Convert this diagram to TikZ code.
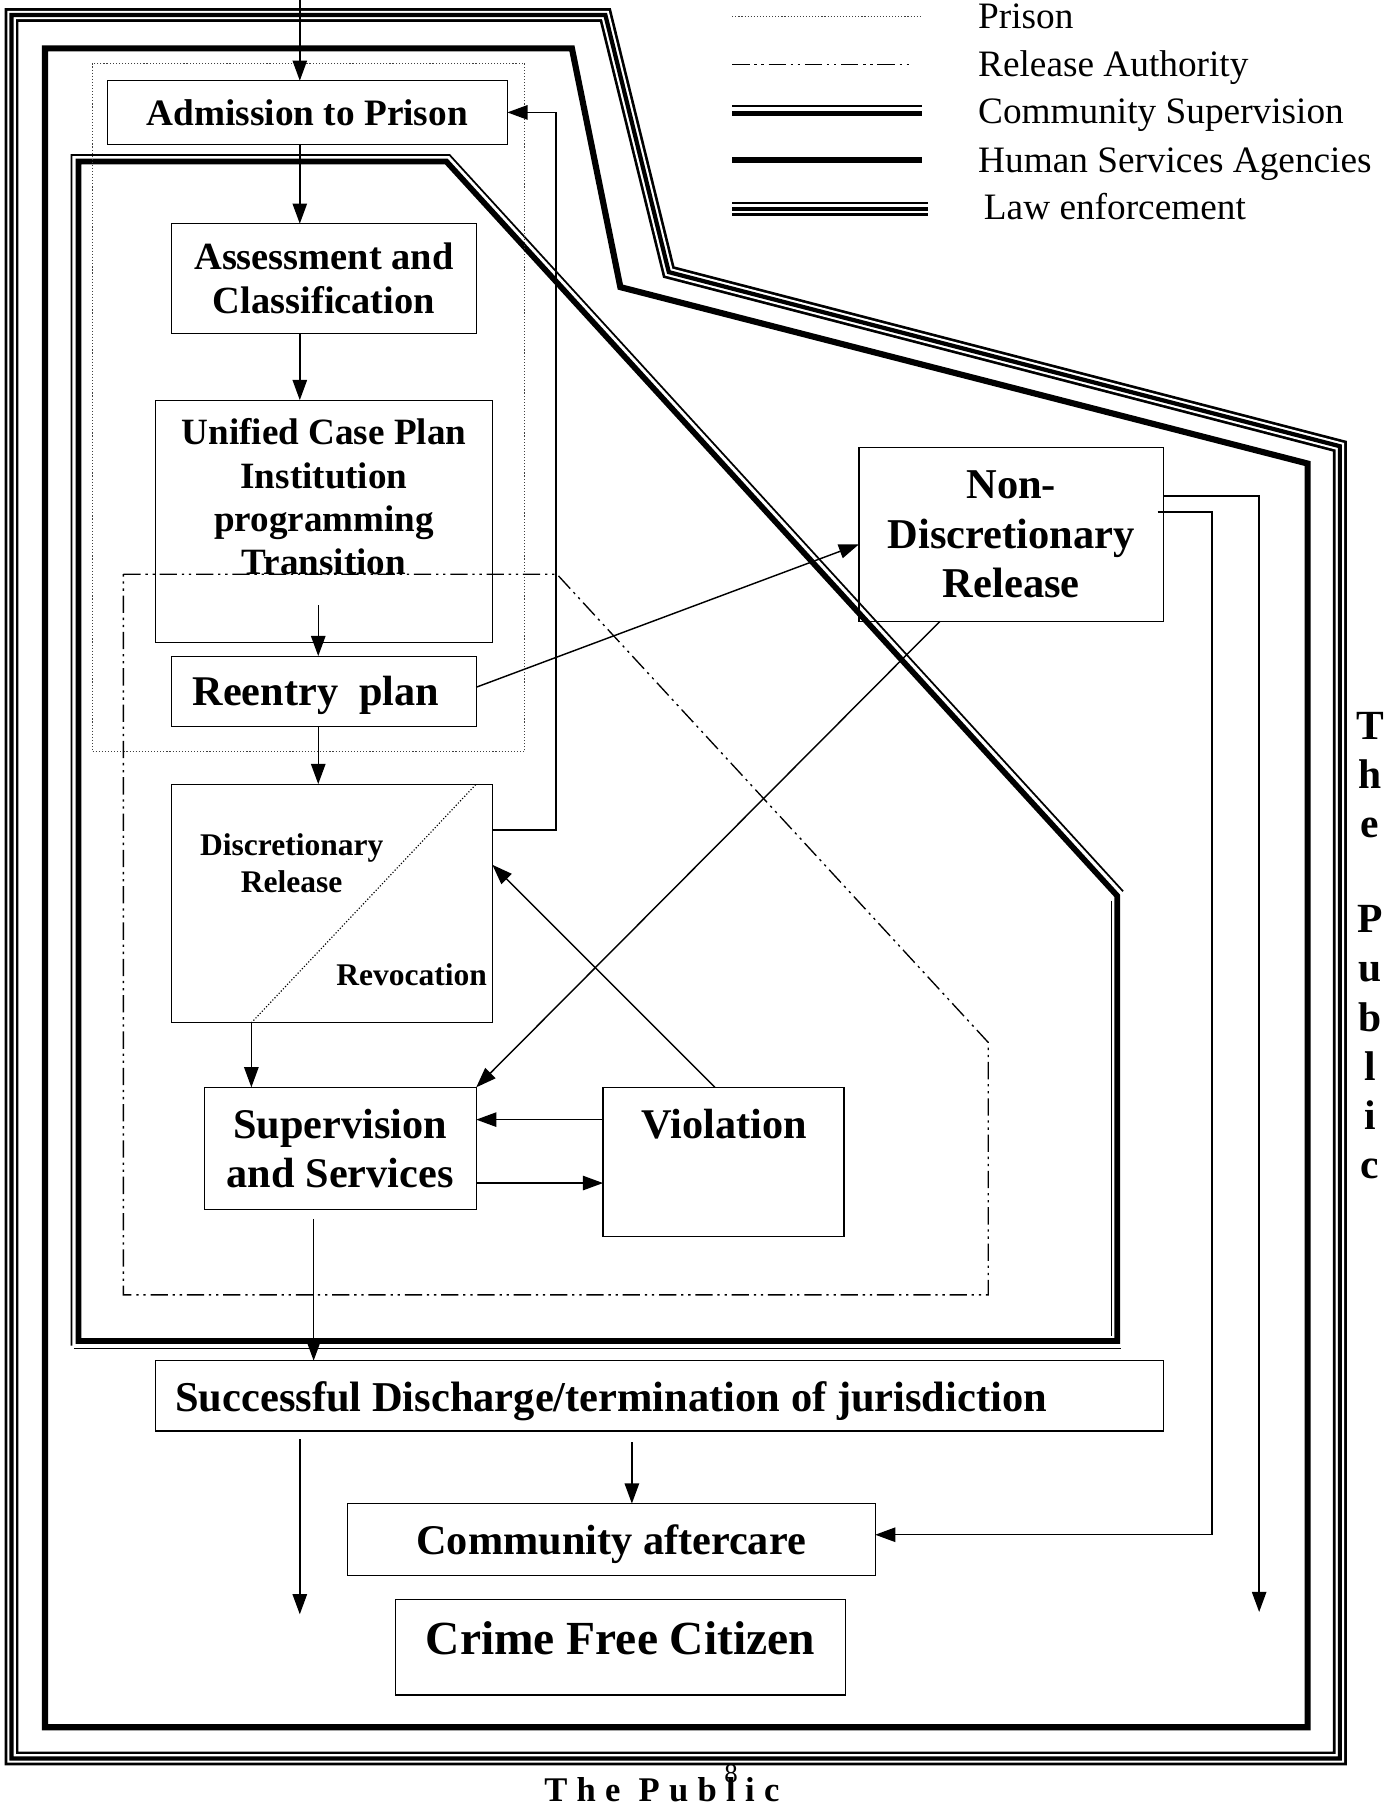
\documentclass[tikz,border=0pt]{standalone}
\usepackage{fontspec}
\setmainfont{Liberation Serif}
\usetikzlibrary{arrows.meta}
\begin{document}
\begin{tikzpicture}[x=0.6pt,y=-0.6pt,
  box/.style={draw,line width=0.6pt,rectangle,inner sep=0pt,outer sep=0pt},
  arr/.style={line width=0.75pt,-{Triangle[length=10.5pt,width=7.5pt]}},
  lbl/.style={align=center,inner sep=0pt},
  hsline/.style={line width=3.2pt},
  csthick/.style={line width=3pt},
  csthin/.style={line width=0.9pt},
  lawline/.style={line width=7.2pt,postaction={draw=white,line width=4.4pt},postaction={draw=black,line width=2.2pt}},
  prisonline/.style={line width=0.6pt,densely dotted,draw=black!75},
  raline/.style={line width=0.7pt,dash pattern=on 9pt off 2.5pt on 1.2pt off 2.5pt on 1.2pt off 2.5pt},
  legtext/.style={anchor=base west,font=\fontsize{19.4}{22}\selectfont,inner sep=0pt}
]
\fill[white] (0,0) rectangle (1204,1568);
\useasboundingbox (0,0) rectangle (1204,1568);

% frames
\draw[lawline] (10,13) -- (525,13) -- (580,236) -- (1162,387) -- (1162,1525) -- (10,1525) -- cycle;
\draw[hsline] (39,42) -- (496,42) -- (538,249) -- (1134,402) -- (1134,1498) -- (39,1498) -- cycle;
\draw[csthick] (68,140) -- (387,140) -- (969,777) -- (969,1163) -- (68,1163) -- cycle;
\draw[csthin] (62,1167) -- (62,134.5) -- (390,134.5) -- (974,773);
\draw[csthin] (964,781) -- (964,1159);
\draw[csthin] (64,1169.5) -- (972,1169.5);
\draw[prisonline] (80,55) rectangle (455,652);
\draw[raline] (107,498) -- (483,498) -- (857,904) -- (857,1123) -- (107,1123) -- cycle;

% legend
\draw[prisonline] (635,14) -- (800,14);
\draw[raline] (635,56) -- (788,56);
\draw[csthin] (635,92) -- (800,92);
\draw[csthick] (635,98.5) -- (800,98.5);
\draw[hsline] (635,139) -- (800,139);
\draw[lawline] (635,181) -- (805,181);
\node[legtext] (lg1) at (848,24.7) {Prison};
\node[legtext] (lg2) at (848,66.5) {Release Authority};
\node[legtext] (lg3) at (848,107.5) {Community Supervision};
\node[legtext] (lg4) at (848,149.5) {Human Services Agencies};
\node[legtext] (lg5) at (853,190.7) {Law enforcement};

% boxes
\node[box,minimum width=347*0.6pt,minimum height=55*0.6pt,font=\bfseries\fontsize{19.4}{22}\selectfont] (adm) at (266.5,97.5) {Admission to Prison};
\node[box,minimum width=264*0.6pt,minimum height=95*0.6pt,align=center,font=\bfseries\fontsize{20}{22.8}\selectfont] (ass) at (281,241.5) {Assessment and\\Classification};
\node[box,minimum width=292*0.6pt,minimum height=210*0.6pt] (ucp) at (281,452) {};
\node[lbl,font=\bfseries\fontsize{19.3}{22.6}\selectfont] (ucpt) at (281,431) {Unified Case Plan\\Institution\\programming\\Transition};
\node[box,minimum width=264*0.6pt,minimum height=61*0.6pt] (ree) at (281,599.5) {};
\node[lbl,font=\bfseries\fontsize{22}{25}\selectfont] (reet) at (274,603) {Reentry\ \ plan};
\node[box,minimum width=278*0.6pt,minimum height=207*0.6pt] (dis) at (288,783.5) {};
\node[lbl,font=\bfseries\fontsize{16.4}{19.2}\selectfont] (dist) at (253,749) {Discretionary\\Release};
\node[lbl,font=\bfseries\fontsize{16.4}{19.2}\selectfont] (revt) at (357,845) {Revocation};
\node[box,minimum width=236*0.6pt,minimum height=106*0.6pt,align=center,font=\bfseries\fontsize{22}{25.2}\selectfont] (sup) at (295,996) {Supervision\\and Services};
\node[box,minimum width=209*0.6pt,minimum height=129*0.6pt] (vio) at (627.5,1007.5) {};
\node[lbl,font=\bfseries\fontsize{22}{25}\selectfont] (viot) at (628,975) {Violation};
\node[box,minimum width=264*0.6pt,minimum height=151*0.6pt,align=center,font=\bfseries\fontsize{22.1}{25.8}\selectfont] (ndr) at (877,463.5) {Non-\\Discretionary\\Release};
\node[box,minimum width=874*0.6pt,minimum height=61*0.6pt] (suc) at (572,1210.5) {};
\node[lbl,font=\bfseries\fontsize{22.1}{25}\selectfont] (suct) at (530,1215) {Successful Discharge/termination of jurisdiction};
\node[box,minimum width=458*0.6pt,minimum height=62*0.6pt] (cac) at (530,1335) {};
\node[lbl,font=\bfseries\fontsize{22}{25}\selectfont] (cact) at (530,1339) {Community aftercare};
\node[box,minimum width=390*0.6pt,minimum height=83*0.6pt] (cfc) at (538,1428.5) {};
\node[lbl,font=\bfseries\fontsize{24.7}{28}\selectfont] (cfct) at (538,1421) {Crime Free Citizen};

% side texts
\node[lbl,font=\bfseries\fontsize{21.6}{25.6}\selectfont] (pubr) at (1188,820) {T\\h\\e\\[24pt]P\\u\\b\\l\\i\\c};
\node[inner sep=0pt,font=\fontsize{14}{16}\selectfont] (pg) at (634,1538) {8};
\node[inner sep=0pt,font=\bfseries\fontsize{18}{21}\selectfont\addfontfeature{LetterSpace=27}] (pubb) at (574,1552) {The Public};

% helper coordinates
\coordinate (c1) at (260,0);
\coordinate (c2) at (276,525);
\coordinate (c3) at (482,720);
\coordinate (c4) at (218,887);
\coordinate (c4b) at (413,680);
\coordinate (c5) at (413,596);
\coordinate (c6) at (745,472);
\coordinate (c7) at (815,541);
\coordinate (c8) at (620,750);
\coordinate (c9) at (0,971);
\coordinate (c10) at (0,1026);
\coordinate (c11) at (272,1057);
\coordinate (c12a) at (260,1248);
\coordinate (c12b) at (260,1400);
\coordinate (c13) at (548,1251);
\coordinate (c14) at (1092,430);
\coordinate (c15) at (1092,1398);
\coordinate (c16) at (1004,444);
\coordinate (c17) at (1051,1331);

% connectors
\draw[arr] (c1) -- (adm.north -| c1);
\draw[arr] (adm.south -| c1) -- (ass.north -| c1);
\draw[arr] (ass.south -| c1) -- (ucp.north -| c1);
\draw[arr] (c2) -- (ree.north -| c2);
\draw[arr] (ree.south -| c2) -- (dis.north -| c2);
\draw[arr] (dis.east |- c3) -- (c3) |- (adm.east);
\draw[line width=0.6pt,densely dotted] (dis.south -| c4) -- (dis.north -| c4b);
\draw[arr] (dis.south -| c4) -- (sup.north -| c4);
\draw[arr] (ree.east |- c5) -- (ndr.west |- c6);
\draw[arr] (ndr.south -| c7) -- (sup.north east);
\draw[arr] (vio.north -| c8) -- (dis.east |- c8);
\draw[arr] (vio.west |- c9) -- (sup.east |- c9);
\draw[arr] (sup.east |- c10) -- (vio.west |- c10);
\draw[arr] (c11) -- (suc.north -| c11);
\draw[arr] (c12a) -- (c12b);
\draw[arr] (c13) -- (cac.north -| c13);
\draw[arr] (ndr.east |- c14) -- (c14) -- (c15);
\draw[arr] (c16) -| (c17) -- (cac.east |- c17);
\end{tikzpicture}
\end{document}
